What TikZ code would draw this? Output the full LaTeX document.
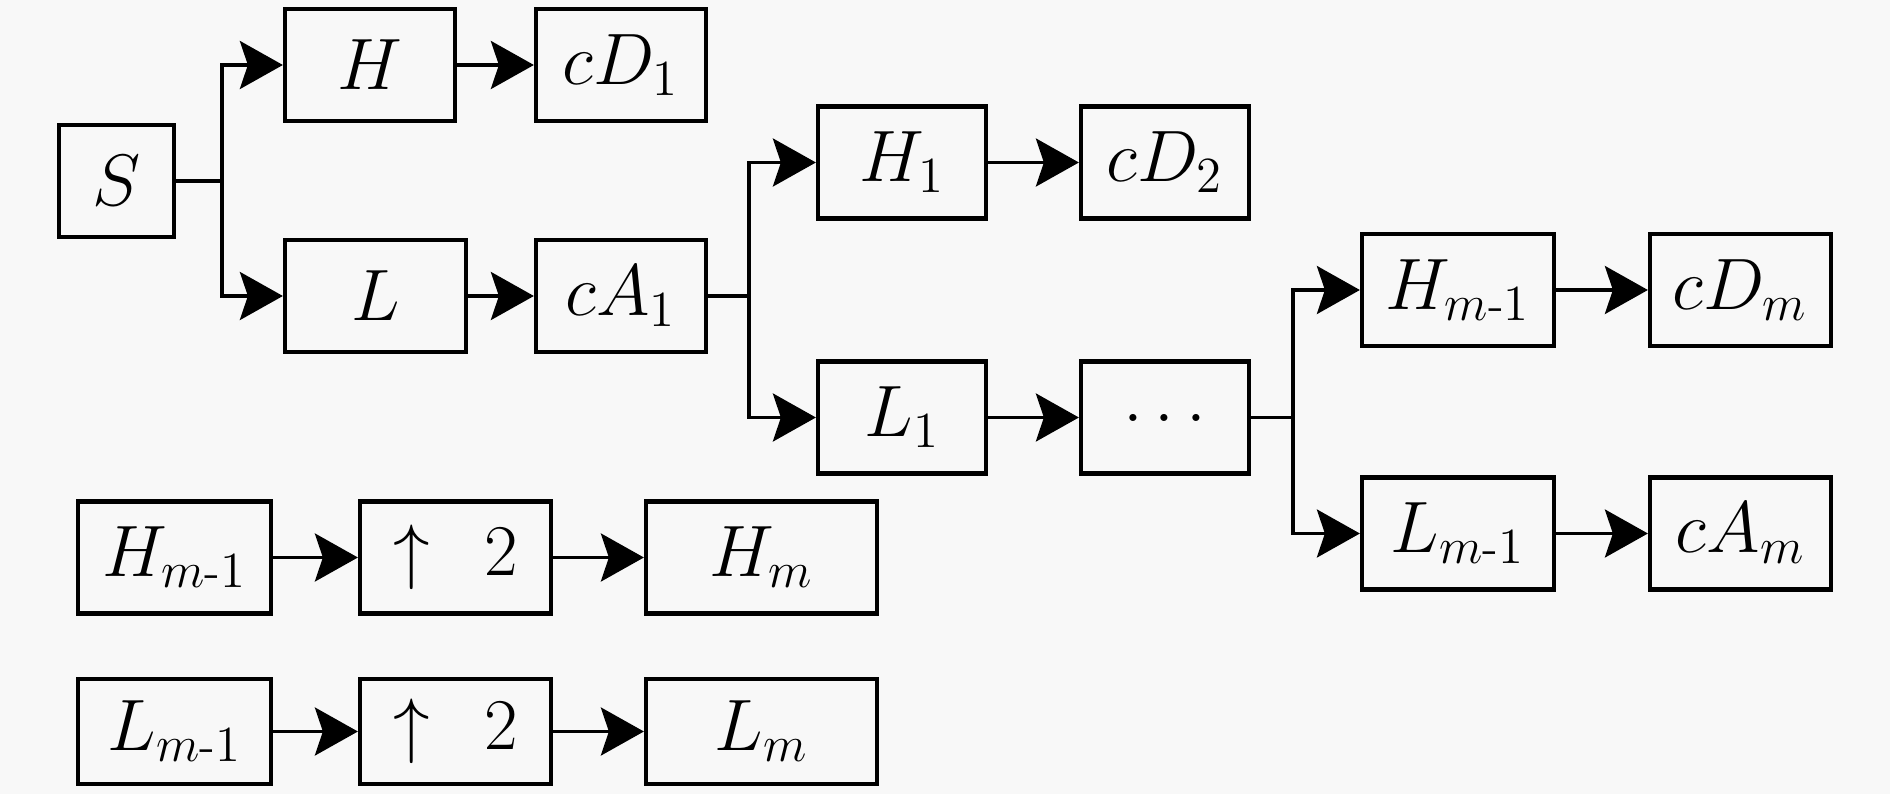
\documentclass[tikz,border=0pt]{standalone}
\usepackage{amsmath}
\usetikzlibrary{arrows.meta}
\definecolor{bgcol}{RGB}{248,248,248}

\begin{document}
\begin{tikzpicture}[
    blk/.style={draw, line width=1.2pt, inner sep=0pt, minimum height=1.12cm, font=\fontsize{19.5}{23}\selectfont},
    arr/.style={line width=1pt, -{Stealth[length=4.3mm, width=4.8mm, inset=0.8mm]}},
    lin/.style={line width=1pt}]
                    \fill[bgcol] (0,0) rectangle (18.9,-7.94);
                    \useasboundingbox (0,0) rectangle (18.9,-7.94);
                    \node[blk, minimum width=1.15cm] (S) at (1.165,-1.81) {$S$};
                    \node[blk, minimum width=1.70cm] (H) at (3.70,-0.65) {$H$};
                    \node[blk, minimum width=1.70cm] (cD1) at (6.21,-0.65) {$cD_1$};
                    \node[blk, minimum width=1.81cm] (L) at (3.755,-2.96) {$L$};
                    \node[blk, minimum width=1.70cm] (cA1) at (6.21,-2.96) {$cA_1$};
                    \node[blk, minimum width=1.68cm] (H1) at (9.02,-1.625) {$H_1$};
                    \node[blk, minimum width=1.68cm] (cD2) at (11.65,-1.625) {$cD_2$};
                    \node[blk, minimum width=1.68cm] (L1) at (9.02,-4.175) {$L_1$};
                    \node[blk, minimum width=1.68cm] (dots) at (11.65,-4.175) {$\ldots$};
                    \node[blk, minimum width=1.92cm] (Hm1) at (14.58,-2.90) {$H_{m\text{-}1}$};
                    \node[blk, minimum width=1.81cm] (cDm) at (17.405,-2.90) {$cD_m$};
                    \node[blk, minimum width=1.92cm] (Lm1) at (14.58,-5.335) {$L_{m\text{-}1}$};
                    \node[blk, minimum width=1.81cm] (cAm) at (17.405,-5.335) {$cA_m$};
                    \node[blk, minimum width=1.93cm] (uH1) at (1.745,-5.575) {$H_{m\text{-}1}$};
                    \node[blk, minimum width=1.91cm] (uUp1) at (4.555,-5.575) {$\uparrow\enspace 2$};
                    \node[blk, minimum width=2.31cm] (uHm) at (7.615,-5.575) {$H_m$};
                    \node[blk, minimum width=1.93cm, minimum height=1.05cm] (uL1) at (1.745,-7.315) {$L_{m\text{-}1}$};
                    \node[blk, minimum width=1.91cm, minimum height=1.05cm] (uUp2) at (4.555,-7.315) {$\uparrow\enspace 2$};
                    \node[blk, minimum width=2.31cm, minimum height=1.05cm] (uLm) at (7.615,-7.315) {$L_m$};
                    \coordinate (sb) at (2.22,-1.81);
                    \coordinate (ab) at (7.49,-2.96);
                    \coordinate (db) at (12.93,-4.175);
                    \draw[lin] (S) -- (sb);
                    \draw[arr] (sb) |- (H);
                    \draw[arr] (sb) |- (L);
                    \draw[arr] (H) -- (cD1);
                    \draw[arr] (L) -- (cA1);
                    \draw[lin] (cA1) -- (ab);
                    \draw[arr] (ab) |- (H1);
                    \draw[arr] (ab) |- (L1);
                    \draw[arr] (H1) -- (cD2);
                    \draw[arr] (L1) -- (dots);
                    \draw[lin] (dots) -- (db);
                    \draw[arr] (db) |- (Hm1);
                    \draw[arr] (db) |- (Lm1);
                    \draw[arr] (Hm1) -- (cDm);
                    \draw[arr] (Lm1) -- (cAm);
                    \draw[arr] (uH1) -- (uUp1);
                    \draw[arr] (uUp1) -- (uHm);
                    \draw[arr] (uL1) -- (uUp2);
                    \draw[arr] (uUp2) -- (uLm);
\end{tikzpicture}
\end{document}
